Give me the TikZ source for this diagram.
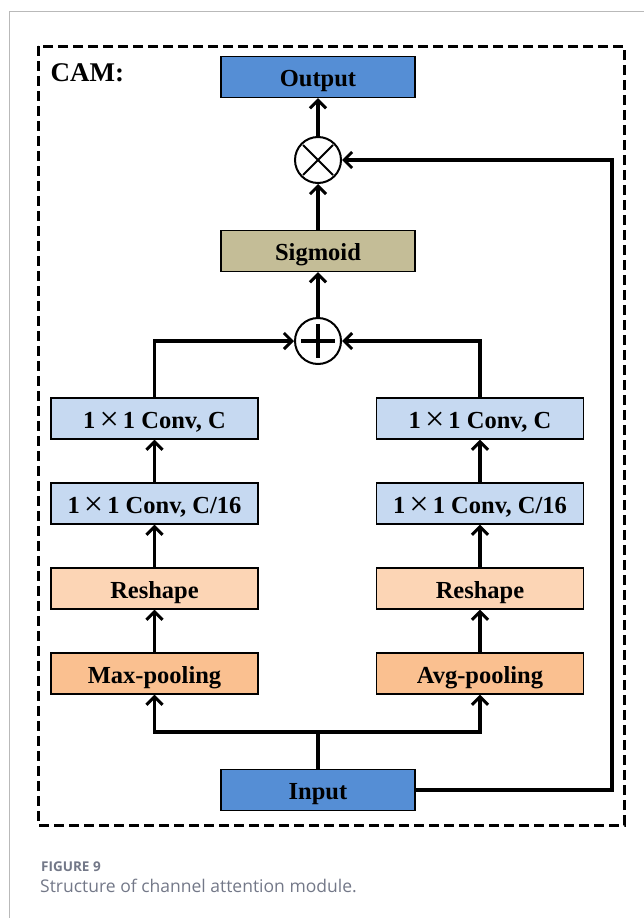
\documentclass[tikz,border=0pt]{standalone}
\usepackage{fontspec}
\setmainfont{Liberation Serif}
\newfontfamily\capfont{Open Sans}
\usetikzlibrary{arrows.meta}
\definecolor{ioblue}{HTML}{558ED5}
\definecolor{sigtan}{HTML}{C4BD97}
\definecolor{convblue}{HTML}{C6D9F1}
\definecolor{reshp}{HTML}{FCD5B5}
\definecolor{poolor}{HTML}{FAC090}
\definecolor{capgray}{HTML}{737888}
\newcommand{\crossx}{\,\raisebox{-2.5pt}{\scalebox{1.4}{\mdseries ×}}\,}

\tikzset{
  blk/.style={draw, line width=1.3pt, minimum width=194pt, minimum height=41pt,
    inner sep=0pt, text height=19pt, text depth=0pt,
    font=\fontsize{24.5}{28}\selectfont\bfseries},
  sideblk/.style={blk, minimum width=207pt},
  opcirc/.style={draw, circle, line width=2pt, minimum size=46pt, inner sep=0pt},
  flow/.style={line width=3.3pt, -{Straight Barb[length=8pt,width=16pt,line width=3pt]}},
  wire/.style={line width=3.3pt}
}

\begin{document}
\begin{tikzpicture}[x=1pt,y=-1pt]
  \useasboundingbox (0,0) rectangle (644,918);

% page frame and module frame
\draw[gray!55, line width=1pt] (9,918) -- (9,11) -- (644,11);
\draw[line width=3pt, dash pattern=on 10pt off 5pt] (38,46) rectangle (624,825);
\node[anchor=west, font=\fontsize{27}{30}\selectfont\bfseries] (cam) at (47,73) {CAM:};

% center column
\node[blk, fill=ioblue] (out) at (318,77) {Output};
\node[opcirc] (mul) at (318,160) {};
\node[blk, fill=sigtan] (sig) at (318,251) {Sigmoid};
\node[opcirc] (add) at (318,341) {};
\node[blk, fill=ioblue] (in) at (318,790) {Input};

% left branch
\node[sideblk, fill=convblue] (convl) at (154.5,418.5) {1\crossx1 Conv, C};
\node[sideblk, fill=convblue] (redl) at (154.5,503.5) {1\crossx1 Conv, C/16};
\node[sideblk, fill=reshp] (shpl) at (154.5,588.5) {Reshape};
\node[sideblk, fill=poolor] (maxp) at (154.5,673.5) {Max-pooling};

% right branch
\node[sideblk, fill=convblue] (convr) at (480,418.5) {1\crossx1 Conv, C};
\node[sideblk, fill=convblue] (redr) at (480,503.5) {1\crossx1 Conv, C/16};
\node[sideblk, fill=reshp] (shpr) at (480,588.5) {Reshape};
\node[sideblk, fill=poolor] (avgp) at (480,673.5) {Avg-pooling};

% connectors
\coordinate (br) at (318,732);
\coordinate (rt) at (612,790);
\draw[wire] (in) -- (br);
\draw[flow] (br) -| (maxp);
\draw[flow] (br) -| (avgp);
\draw[flow] (maxp) -- (shpl);
\draw[flow] (shpl) -- (redl);
\draw[flow] (redl) -- (convl);
\draw[flow] (avgp) -- (shpr);
\draw[flow] (shpr) -- (redr);
\draw[flow] (redr) -- (convr);
\draw[flow] (convl) |- (add);
\draw[flow] (convr) |- (add);
\draw[flow] (add) -- (sig);
\draw[flow] (sig) -- (mul);
\draw[flow] (mul) -- (out);
\draw[flow] (in.east) -- (rt) |- (mul);

% symbols inside the circles
\draw[line width=2pt] (303,145) -- (333,175) (333,145) -- (303,175);
\draw[line width=3.5pt] (301,341) -- (335,341) (318,324) -- (318,358);

% caption
\node[anchor=base west, inner sep=0pt, text=capgray, font=\capfont\bfseries\fontsize{13.5}{15}\selectfont] (fig) at (41,871) {FIGURE 9};
\node[anchor=base west, inner sep=0pt, text=capgray, font=\capfont\fontsize{17.5}{20}\selectfont] (cap) at (40,892) {Structure of channel attention module.};
\end{tikzpicture}
\end{document}
